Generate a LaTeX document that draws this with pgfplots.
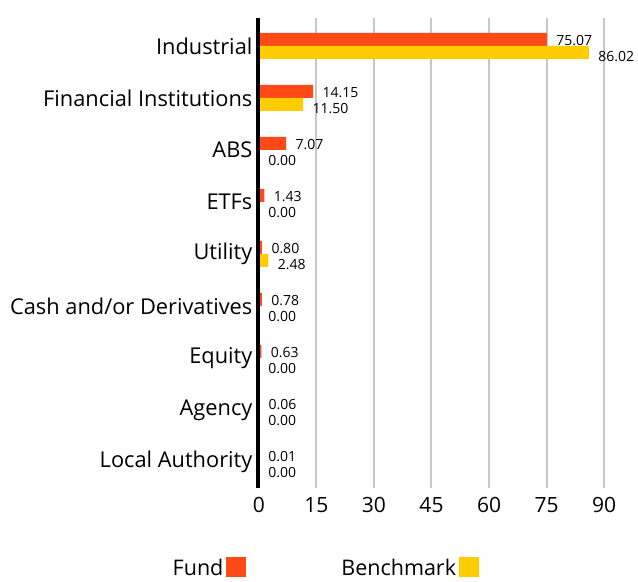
\documentclass[border=0pt]{standalone}
\usepackage{pgfplots}
\pgfplotsset{compat=1.18}
\usepackage{fontspec}
\setmainfont{Open Sans}
\definecolor{fundc}{HTML}{FF4A17}
\definecolor{benchc}{HTML}{FFCC00}
\definecolor{gridc}{HTML}{C8C8C8}
\begin{document}
\begin{tikzpicture}
\begin{axis}[
  scale only axis,
  width=372pt, height=470pt,
  xmin=0, xmax=97,
  ymin=-0.5, ymax=8.54,
  clip=false,
  xbar, bar width=13pt,
  xtick={0,15,30,45,60,75,90},
  ytick={0,1,2,3,4,5,6,7,8},
  yticklabels={Local Authority,Agency,Equity,Cash and/or Derivatives,Utility,ETFs,ABS,Financial Institutions,Industrial},
  major tick length=0pt,
  axis line style={draw=none},
  xmajorgrids, ymajorgrids=false,
  grid style={gridc, line width=2pt},
  /pgf/number format/assume math mode=true,
  yticklabel style={font=\fontsize{21.8}{24}\selectfont, xshift=-3pt},
  xticklabel style={font=\fontsize{21}{24}\selectfont, yshift=-6pt},
  point meta=x,
  nodes near coords={\pgfmathprintnumber[fixed,fixed zerofill,precision=2]{\pgfplotspointmeta}},
  nodes near coords style={font=\fontsize{14}{16}\selectfont, anchor=west, xshift=6pt},
  legend plot pos=right,
  legend style={at={(rel axis cs:0.176,-0.17)}, anchor=center, draw=none, fill=none,
    legend columns=2, font=\fontsize{21.5}{24}\selectfont,
    /tikz/every even column/.append style={column sep=92pt},
    nodes={inner sep=3pt}},
  legend image code/.code={\fill[#1] (1pt,-9pt) rectangle (21pt,11pt);},
]
\addplot[fill=fundc, draw=none, bar shift=6.5pt, nodes near coords style={yshift=-1.5pt}]
  coordinates {(0.01,0) (0.06,1) (0.63,2) (0.78,3) (0.80,4) (1.43,5) (7.07,6) (14.15,7) (75.07,8)};
\addlegendentry{Fund}
\addplot[fill=benchc, draw=none, bar shift=-6.5pt, nodes near coords style={yshift=-4.5pt}]
  coordinates {(0,0) (0,1) (0,2) (0,3) (2.48,4) (0,5) (0,6) (11.50,7) (86.02,8)};
\addlegendentry{Benchmark}
\draw[black, line width=4pt] (axis cs:-0.3,-0.5) -- (axis cs:-0.3,8.54);
\coordinate (bl) at (rel axis cs:-0.696,-0.2);
\coordinate (tr) at (rel axis cs:1.019,1.038);
\end{axis}
\path (bl) rectangle (tr);
\end{tikzpicture}
\end{document}
